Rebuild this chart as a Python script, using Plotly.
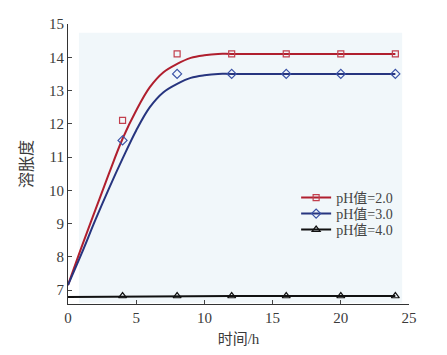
import plotly.graph_objects as go

# measured points
t_pts = [4, 8, 12, 16, 20, 24]
ph2_pts = [12.1, 14.1, 14.1, 14.1, 14.1, 14.1]
ph3_pts = [11.5, 13.5, 13.5, 13.5, 13.5, 13.5]
ph4_pts = [6.82, 6.82, 6.82, 6.82, 6.82, 6.82]

# fitted curves
t_fit = [0, 1, 2, 3, 4, 5, 6, 7, 8, 9, 10, 11, 12, 24]
ph2_fit = [7.15, 8.3, 9.4, 10.5, 11.55, 12.4, 13.1, 13.55, 13.8, 13.98, 14.06, 14.1, 14.1, 14.1]
ph3_fit = [7.15, 8.1, 9.1, 10.05, 10.95, 11.8, 12.5, 12.95, 13.2, 13.38, 13.46, 13.5, 13.5, 13.5]
t_fit4 = [0, 12, 24]
ph4_fit = [6.79, 6.82, 6.82]

names = ["pH值=2.0", "pH值=3.0", "pH值=4.0"]
x_ticks = [0, 5, 10, 15, 20, 25]
y_ticks = [7, 8, 9, 10, 11, 12, 13, 14, 15]

red = "#b01f2e"
red_m = "#c2404e"
blue = "#27357f"
blue_m = "#3a52a6"
black = "#111111"

FONT = "Liberation Serif, Noto Sans CJK SC, serif"

fig = go.Figure()

def add(series_fit_x, series_fit_y, px, py, name, lc, mc, sym, msize, leg):
    fig.add_trace(go.Scatter(x=series_fit_x, y=series_fit_y, mode="lines",
                             line=dict(color=lc, width=2, shape="spline", smoothing=1.0),
                             showlegend=False, hoverinfo="skip"))
    fig.add_trace(go.Scatter(x=px, y=py, mode="markers",
                             marker=dict(symbol=sym, size=msize, color=mc, line=dict(width=1.2, color=mc)),
                             showlegend=False))
    fig.add_trace(go.Scatter(x=[None], y=[None], mode="lines+markers", name=name,
                             line=dict(color=lc, width=2),
                             marker=dict(symbol=sym, size=msize, color=mc, line=dict(width=1.2, color=mc)),
                             legend=leg))

add(t_fit, ph2_fit, t_pts, ph2_pts, names[0], red, red_m, "square-open", 6, "legend")
add(t_fit, ph3_fit, t_pts, ph3_pts, names[1], blue, blue_m, "diamond-open", 7, "legend2")
add(t_fit4, ph4_fit, t_pts, ph4_pts, names[2], black, black, "triangle-up-open", 7, "legend3")

fig.add_shape(type="rect", xref="x", yref="y", x0=0.8, x1=24.5, y0=6.62, y1=14.74,
              fillcolor="#f1f7fa", line=dict(width=0), layer="below")

leg_common = dict(x=0.669, xanchor="left", yanchor="middle", bgcolor="rgba(0,0,0,0)",
                  font=dict(size=14, family=FONT, color="#444444"), itemwidth=30)

fig.update_layout(
    width=439, height=347,
    margin=dict(l=60, r=38, t=16, b=51),
    paper_bgcolor="white", plot_bgcolor="white",
    font=dict(family=FONT, size=15, color="#3a3a3a"),
    legend=dict(y=0.3786, **leg_common),
    legend2=dict(y=0.3214, **leg_common),
    legend3=dict(y=0.2643, **leg_common),
    xaxis=dict(range=[0, 25], tickvals=x_ticks, ticks="inside", ticklen=4, automargin=False,
               showline=True, linecolor="#333333", linewidth=1.2, showgrid=False, zeroline=False,
               mirror=False, title=dict(text="时间/h", standoff=8, font=dict(size=15))),
    yaxis=dict(range=[6.58, 15], tickvals=y_ticks, ticks="inside", ticklen=4, automargin="left",
               showline=True, linecolor="#333333", linewidth=1.2, showgrid=False, zeroline=False,
               title=dict(text="溶胀度", standoff=12, font=dict(size=16))),
)

fig.write_html("out.html")
